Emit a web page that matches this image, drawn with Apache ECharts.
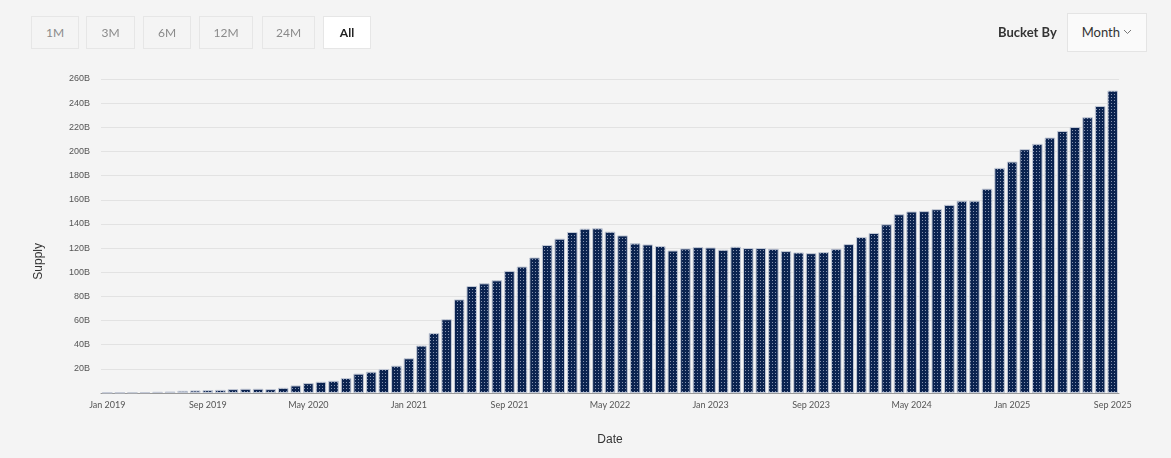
<!DOCTYPE html>
<html>
<head>
<meta charset="utf-8">
<script src="https://cdn.jsdelivr.net/npm/echarts@6/dist/echarts.min.js"></script>
<style>
  html, body { margin: 0; padding: 0; background: #f4f4f4; }
  #wrap { position: relative; width: 1171px; height: 458px; }
  #chart { position: absolute; left: 0; top: 0; width: 1171px; height: 458px; }
  .btn {
    position: absolute; top: 16px; height: 33px; box-sizing: border-box;
    border: 1px solid #e6e6e6; background: #f4f4f4; color: #8a8a8a;
    font: 12px Lato, sans-serif; line-height: 31px; text-align: center;
  }
  .btn.on { background: #fff; color: #222; font-weight: bold; }
  #bucket { position: absolute; left: 998px; top: 24px; font: bold 13px Lato, sans-serif; color: #333; }
  #month {
    position: absolute; left: 1067px; top: 13px; width: 80px; height: 39px; box-sizing: border-box;
    border: 1px solid #e4e4e4; background: #fafafa; color: #333;
    font: 13px Lato, sans-serif; line-height: 37px; text-align: center;
  }
</style>
</head>
<body>
<div id="wrap">
  <div id="chart"></div>
  <div class="btn" style="left:31px;width:48px">1M</div>
  <div class="btn" style="left:86px;width:49px">3M</div>
  <div class="btn" style="left:143px;width:48px">6M</div>
  <div class="btn" style="left:199px;width:54px">12M</div>
  <div class="btn" style="left:262px;width:53px">24M</div>
  <div class="btn on" style="left:323px;width:48px">All</div>
  <div id="bucket">Bucket By</div>
  <div id="month">Month <svg width="9" height="6" style="vertical-align:2px"><polyline points="1,1 4.5,4.5 8,1" fill="none" stroke="#777" stroke-width="1"/></svg></div>
</div>
<script>
  // 月份分类
  const monthNames = ['Jan', 'Feb', 'Mar', 'Apr', 'May', 'Jun', 'Jul', 'Aug', 'Sep', 'Oct', 'Nov', 'Dec']
  const years = [2019, 2020, 2021, 2022, 2023, 2024, 2025]
  const dates = []
  years.forEach(y => monthNames.forEach(m => dates.push(m + ' ' + y)))
  dates.length = 81 // Jan 2019 .. Sep 2025

  // supply, in billions
  const supply2019 = [0.4, 0.4, 0.5, 0.6, 1.0, 1.25, 1.8, 2.1, 2.4, 2.6, 3.2, 3.5]
  const supply2020 = [3.5, 3.2, 4.3, 6.25, 8.2, 9.3, 10.1, 12.4, 16.0, 17.6, 19.9, 22.6]
  const supply2021 = [28.75, 39.3, 49.7, 61.1, 77.5, 88.6, 90.8, 93.3, 101.1, 104.7, 112.2, 122.5]
  const supply2022 = [127.8, 133.3, 136.1, 136.4, 133.6, 130.5, 123.9, 123.0, 121.7, 118.0, 119.7, 120.8]
  const supply2023 = [120.5, 118.6, 121.1, 120.0, 120.0, 119.4, 117.5, 116.4, 115.8, 116.7, 119.4, 123.3]
  const supply2024 = [129.2, 132.5, 139.7, 148.0, 150.3, 150.6, 152.2, 155.8, 159.2, 159.2, 169.2, 186.4]
  const supply2025 = [191.6, 201.9, 206.3, 211.5, 217.0, 220.3, 228.4, 237.7, 250.4]
  const supply = [].concat(supply2019, supply2020, supply2021, supply2022, supply2023, supply2024, supply2025)

  const yTicks = { min: 0, max: 260, step: 20 }

  // dotted fill for the bars
  const pat = document.createElement('canvas')
  pat.width = 3
  pat.height = 3
  const pctx = pat.getContext('2d')
  pctx.fillStyle = '#0b2350'
  pctx.fillRect(0, 0, 3, 3)
  pctx.fillStyle = '#8593b0'
  pctx.fillRect(1, 1, 1, 1)

  const mChart = echarts.init(document.getElementById('chart'))
  const options = {
    backgroundColor: '#f4f4f4',
    animation: false,
    grid: { left: 101, right: 52, top: 79, bottom: 65 },
    xAxis: {
      type: 'category',
      data: dates,
      name: 'Date',
      nameLocation: 'middle',
      nameGap: 41,
      nameTextStyle: { fontFamily: 'Liberation Sans', fontSize: 12, color: '#333' },
      axisLine: { lineStyle: { color: '#999' } },
      axisTick: { interval: 7, alignWithLabel: true, length: 5, lineStyle: { color: '#777' } },
      axisLabel: { interval: 7, fontFamily: 'Lato', fontSize: 9, color: '#555', margin: 8 }
    },
    yAxis: {
      type: 'value',
      min: yTicks.min,
      max: yTicks.max,
      interval: yTicks.step,
      axisLine: { show: false },
      axisTick: { show: false },
      splitLine: { lineStyle: { color: '#e2e2e2' } },
      axisLabel: {
        fontFamily: 'Liberation Sans', fontSize: 9, color: '#555', margin: 11,
        formatter: v => (v === 0 ? '' : v + 'B')
      }
    },
    graphic: [{
      type: 'text',
      left: 33,
      top: 243,
      rotation: Math.PI / 2,
      style: { text: 'Supply', font: '12px "Liberation Sans"', fill: '#333' }
    }],
    series: [{
      type: 'bar',
      data: supply,
      barCategoryGap: '16%',
      itemStyle: {
        color: { image: pat, repeat: 'repeat' },
        borderColor: '#c3c9d6',
        borderWidth: 1
      }
    }]
  }
  mChart.setOption(options)
</script>
</body>
</html>
